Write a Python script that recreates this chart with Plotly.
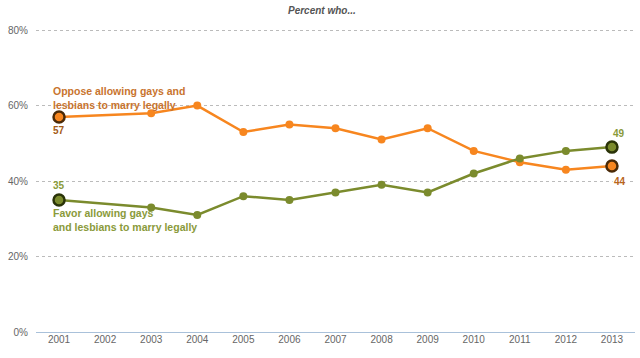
import plotly.graph_objects as go

years = [2001, 2002, 2003, 2004, 2005, 2006, 2007, 2008, 2009, 2010, 2011, 2012, 2013]
year_labels = ["2001", "2002", "2003", "2004", "2005", "2006", "2007", "2008", "2009", "2010", "2011", "2012", "2013"]
oppose = [57, None, 58, 60, 53, 55, 54, 51, 54, 48, 45, 43, 44]
favor = [35, None, 33, 31, 36, 35, 37, 39, 37, 42, 46, 48, 49]
y_ticks = [0, 20, 40, 60, 80]
y_tick_labels = ["0%", "20%", "40%", "60%", "80%"]

ORANGE = "#F7861F"
GREEN = "#7B8B2D"
FONT = "Liberation Sans, Arial, sans-serif"

fig = go.Figure()

fig.add_trace(go.Scatter(x=years, y=oppose, mode="lines+markers", connectgaps=True,
                         line=dict(color=ORANGE, width=2.5),
                         marker=dict(color=ORANGE, size=8), hoverinfo="skip"))
fig.add_trace(go.Scatter(x=years, y=favor, mode="lines+markers", connectgaps=True,
                         line=dict(color=GREEN, width=2.5),
                         marker=dict(color=GREEN, size=8), hoverinfo="skip"))

ends_x = [years[0], years[-1]]
fig.add_trace(go.Scatter(x=ends_x, y=[oppose[0], oppose[-1]], mode="markers",
                         marker=dict(color=ORANGE, size=11, line=dict(color="#4A2A08", width=2.5)),
                         hoverinfo="skip"))
fig.add_trace(go.Scatter(x=ends_x, y=[favor[0], favor[-1]], mode="markers",
                         marker=dict(color=GREEN, size=11, line=dict(color="#2A3308", width=2.5)),
                         hoverinfo="skip"))

ann = []
ann.append(dict(x=years[0], y=oppose[0], text="<b>%d</b>" % oppose[0], showarrow=False, yshift=-14,
                font=dict(color="#A35A16", size=10, family=FONT), xanchor="center"))
ann.append(dict(x=years[0], y=favor[0], text="<b>%d</b>" % favor[0], showarrow=False, yshift=14,
                font=dict(color="#8A9A3A", size=10, family=FONT), xanchor="center"))
ann.append(dict(x=years[-1], y=favor[-1], text="<b>%d</b>" % favor[-1], showarrow=False, yshift=14, xshift=7,
                font=dict(color="#8A9A3A", size=10, family=FONT), xanchor="center"))
ann.append(dict(x=years[-1], y=40, text="<b>%d</b>" % oppose[-1], showarrow=False, xshift=8,
                font=dict(color="#B8651C", size=10, family=FONT), xanchor="center", bgcolor="white"))
ann.append(dict(x=years[0], y=oppose[0], text="<b>Oppose allowing gays and<br>lesbians to marry legally</b>",
                showarrow=False, xanchor="left", yanchor="bottom", xshift=-8, yshift=4, align="left",
                font=dict(color="#C8742E", size=10.5, family=FONT)))
ann.append(dict(x=years[0], y=favor[0], text="<b>Favor allowing gays<br>and lesbians to marry legally</b>",
                showarrow=False, xanchor="left", yanchor="top", xshift=-8, yshift=-5, align="left",
                font=dict(color="#8A9A3A", size=10.5, family=FONT)))
ann.append(dict(xref="paper", yref="paper", x=0.477, y=1.0, yshift=19, text="<b><i>Percent who...</i></b>",
                showarrow=False, xanchor="center", yanchor="middle",
                font=dict(color="#555555", size=10, family=FONT)))

fig.update_layout(
    width=640, height=358,
    margin=dict(l=36, r=5, t=29, b=26),
    paper_bgcolor="white", plot_bgcolor="white",
    showlegend=False,
    annotations=ann,
    xaxis=dict(range=[2000.5, 2013.5], tickvals=years, ticktext=year_labels, automargin=False,
               showgrid=False, showline=False, zeroline=False,
               tickfont=dict(color="#666666", size=10, family=FONT), ticks=""),
    yaxis=dict(range=[0, 80.3], tickvals=y_ticks, ticktext=y_tick_labels, automargin=False,
               showgrid=True, gridcolor="#BBBBBB", griddash="3px,3px", gridwidth=1,
               zeroline=True, zerolinecolor="#A9C1DA", zerolinewidth=1,
               showline=False, tickfont=dict(color="#666666", size=10, family=FONT),
               ticks="outside", ticklen=5, tickcolor="white"),
)

fig.write_html("out.html", config={"displayModeBar": False},
               post_script="document.body.style.margin='0';")
